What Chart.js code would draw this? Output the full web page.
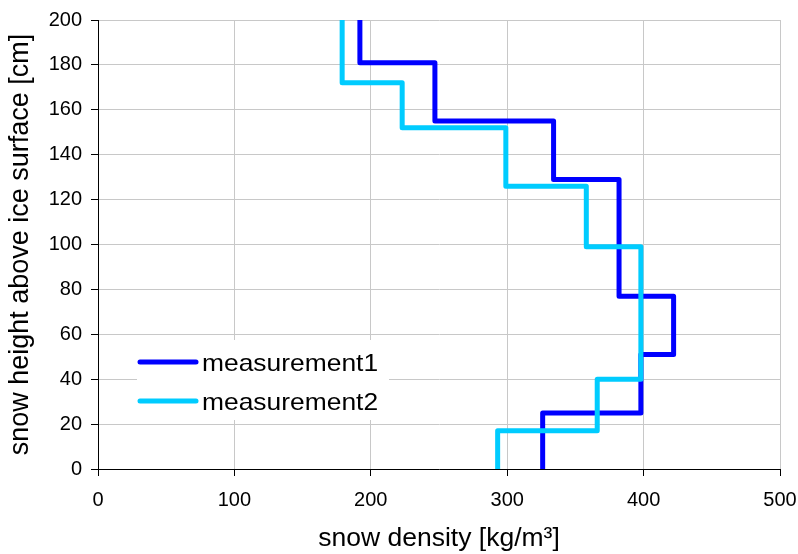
<!DOCTYPE html>
<html>
<head>
<meta charset="utf-8">
<script src="https://cdn.jsdelivr.net/npm/chart.js@4"></script>
<style>
  html, body { margin: 0; padding: 0; background: #fff; }
  #wrap { width: 798px; height: 554px; }
</style>
</head>
<body>
<div id="wrap"><canvas id="density-chart"></canvas></div>
<script>
// layer boundaries (cm, top to bottom) and density of each layer
const m1Heights = [200, 181, 155, 129, 77, 51, 25, 0];
const m1Density = [192, 247, 334, 382, 422, 398, 326];
const m2Heights = [200, 172, 152, 126, 99, 40, 17, 0];
const m2Density = [179, 223, 299, 358, 398, 366, 293];

const seriesNames = ["measurement1", "measurement2"];
const seriesColors = ["#0000ff", "#00ccff"];

const xTicks = [0, 100, 200, 300, 400, 500];
const yTicks = [0, 20, 40, 60, 80, 100, 120, 140, 160, 180, 200];

// turn layers into a step profile
function profile(heights, density) {
  const pts = [];
  for (let i = 0; i < density.length; i++) {
    pts.push({ x: density[i], y: heights[i] });
    pts.push({ x: density[i], y: heights[i + 1] });
  }
  return pts;
}

const fontFamily = "'Liberation Sans', Arial, sans-serif";
const tickFont = { family: fontFamily, size: 20 };
const gridColor = "#c8c8c8";

// legend box drawn inside the plot area, like the original
const innerLegend = {
  id: "innerLegend",
  afterDatasetsDraw(chart) {
    const ctx = chart.ctx;
    const area = chart.chartArea;
    const bx = area.left + 39, by = area.top + 320, bw = 252, bh = 80;
    ctx.save();
    ctx.fillStyle = "#fff";
    ctx.fillRect(bx, by, bw, bh);
    seriesNames.forEach((name, i) => {
      const ly = by + 22 + i * 39;
      ctx.strokeStyle = seriesColors[i];
      ctx.lineWidth = 5;
      ctx.lineCap = "round";
      ctx.beginPath();
      ctx.moveTo(bx + 3, ly);
      ctx.lineTo(bx + 59, ly);
      ctx.stroke();
      // the original text is a bit wider than the font
      ctx.save();
      ctx.translate(bx + 65, ly + 2);
      ctx.scale(1.1, 1);
      ctx.font = "24px " + fontFamily;
      ctx.textBaseline = "middle";
      ctx.fillStyle = "#000";
      ctx.fillText(name, 0, 0);
      ctx.restore();
    });
    ctx.restore();
  }
};

const ctx = document.getElementById("density-chart").getContext("2d");

new Chart(ctx, {
  type: "scatter",
  data: {
    datasets: [
      {
        label: seriesNames[0],
        data: profile(m1Heights, m1Density),
        borderColor: seriesColors[0],
        backgroundColor: seriesColors[0],
        order: 1
      },
      {
        label: seriesNames[1],
        data: profile(m2Heights, m2Density),
        borderColor: seriesColors[1],
        backgroundColor: seriesColors[1],
        order: 0
      }
    ]
  },
  options: {
    responsive: true,
    maintainAspectRatio: false,
    animation: false,
    layout: { padding: { top: 20, right: 18, left: 0, bottom: 0 } },
    elements: {
      line: { borderWidth: 5, tension: 0, borderJoinStyle: "round", fill: false },
      point: { radius: 0, hoverRadius: 0 }
    },
    datasets: { scatter: { showLine: true } },
    plugins: {
      legend: { display: false },
      tooltip: { enabled: false }
    },
    scales: {
      x: {
        type: "linear",
        min: 0,
        max: 500,
        afterBuildTicks: (scale) => { scale.ticks = xTicks.map(v => ({ value: v })); },
        afterFit: (scale) => {
          scale.height = 85;
          scale.paddingLeft = 0;
          scale.paddingRight = 0;
        },
        ticks: { font: tickFont, color: "#000", padding: 12 },
        grid: { color: gridColor, tickColor: "#000", tickLength: 7 },
        border: { color: "#000", width: 1 },
        title: {
          display: true,
          text: "snow density [kg/m³]",
          color: "#000",
          font: { family: fontFamily, size: 26.5, lineHeight: 1 },
          padding: { top: 0, bottom: 2 }
        }
      },
      y: {
        type: "linear",
        min: 0,
        max: 200,
        afterBuildTicks: (scale) => { scale.ticks = yTicks.map(v => ({ value: v })); },
        afterFit: (scale) => {
          scale.width = 98;
          scale.paddingTop = 0;
          scale.paddingBottom = 0;
        },
        ticks: { font: tickFont, color: "#000", padding: 9 },
        grid: { color: gridColor, tickColor: "#000", tickLength: 7 },
        border: { color: "#000", width: 1 },
        title: {
          display: true,
          text: "snow height above ice surface [cm]",
          color: "#000",
          font: { family: fontFamily, size: 27 },
          padding: { top: 4, bottom: 0 }
        }
      }
    }
  },
  plugins: [innerLegend]
});
</script>
</body>
</html>
